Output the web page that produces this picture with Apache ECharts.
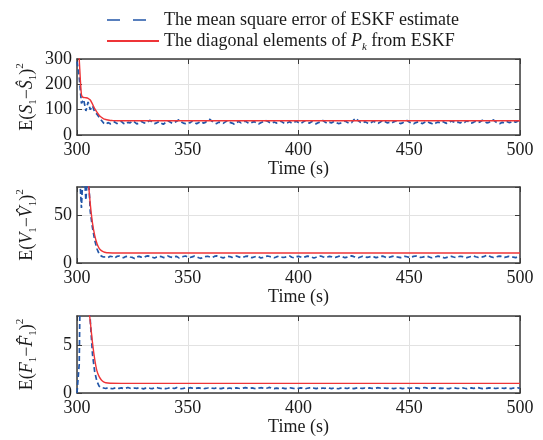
<!DOCTYPE html>
<html>
<head>
<meta charset="utf-8">
<script src="https://cdn.jsdelivr.net/npm/echarts@6/dist/echarts.min.js"></script>
<style>
  html, body { margin: 0; padding: 0; background: #fff; }
  #chart { width: 543px; height: 440px; }
</style>
</head>
<body>
<div id="chart"></div>
<script>
// x axis (s)
const xMin = 300, xMax = 500, xStep = 50;
// y axis limits per panel
const yMax = [300, 80, 8];
const yStep = [100, 50, 5];

// blue: sampled every second from 300 s to 500 s
const blueTime = [];
for (let t = 300; t <= 500; t++) blueTime.push(t);

const blue1 = [
  290, 230, 125, 140, 95, 130, 100, 115, 90, 82, 70, 58, 47, 42, 49, 44,
  47, 52, 45, 49, 54, 46, 43, 50, 48, 55, 51, 44, 47, 53, 49, 46, 52, 58, 50, 45,
  48, 53, 47, 42, 50, 56, 51, 46, 49, 54, 60, 52, 47, 45, 50, 48, 55, 51, 44, 49,
  53, 47, 50, 57, 62, 54, 48, 45, 51, 49, 46, 52, 56, 50, 47, 43, 49, 53, 48, 51,
  55, 49, 46, 50, 53, 47, 44, 48, 52, 58, 54, 49, 46, 51, 47, 50, 55, 49, 45, 48,
  52, 47, 50, 54, 49, 45, 51, 56, 50, 47, 53, 48, 44, 49, 52, 57, 51, 46, 50, 48,
  53, 49, 45, 47, 51, 55, 50, 46, 49, 60, 66, 56, 50, 47, 52, 48, 45, 50, 54, 49,
  46, 51, 58, 53, 48, 50, 47, 52, 55, 49, 45, 48, 53, 57, 51, 47, 44, 49, 52, 48,
  45, 50, 54, 49, 46, 42, 47, 51, 48, 53, 49, 46, 50, 55, 52, 48, 51, 47, 53, 50,
  56, 51, 47, 50, 54, 49, 52, 58, 53, 48, 50, 55, 60, 52, 47, 45, 50, 48, 53, 49,
  51, 55, 50, 54, 57
];
const blue2 = [
  120, 100, 58, 110, 66, 100, 54, 37, 24, 15, 9.5, 7.2, 6.3,
  6.4, 5.8, 7.1, 6.6, 5.2, 6.9, 7.4, 6.1, 5.5, 6.8, 7.2, 6.3, 5.9, 4.8, 6.5, 7.0, 6.2, 5.6, 6.9, 7.5,
  6.7, 6.0, 5.3, 6.4, 7.1, 6.8, 5.7, 6.2, 7.3, 6.5, 5.9, 6.6, 7.0, 5.4, 6.1, 6.8, 7.4, 6.3, 5.8, 6.5,
  7.2, 6.4, 5.5, 4.9, 6.0, 6.7, 7.1, 6.3, 5.8, 6.9, 7.5, 6.6, 6.0, 5.4, 6.2, 7.0, 6.8, 5.9, 6.4, 7.3,
  6.5, 5.7, 6.1, 6.9, 7.2, 6.4, 5.6, 6.3, 7.0, 6.6, 5.2, 5.9, 6.7, 7.4, 6.8, 6.1, 5.5, 6.4, 7.1, 6.5,
  5.8, 6.2, 6.9, 7.3, 6.0, 5.4, 6.6, 7.0, 6.3, 5.7, 6.5, 7.2, 6.8, 6.1, 5.3, 6.0, 6.7, 7.4, 6.5, 5.9,
  6.3, 7.0, 6.6, 5.8, 6.2, 6.9, 7.3, 6.4, 5.6, 6.1, 6.8, 7.5, 6.7, 6.0, 5.5, 6.3, 7.1, 6.6, 5.9, 6.4,
  7.0, 6.5, 5.7, 6.2, 6.9, 7.2, 6.3, 5.4, 6.0, 6.7, 7.3, 6.8, 6.1, 5.6, 6.4, 7.0, 6.6, 5.8, 6.3, 6.9,
  7.4, 6.5, 5.9, 6.2, 6.8, 7.1, 6.4, 5.5, 6.0, 6.6, 7.2, 6.7, 6.1, 5.3, 5.9, 6.5, 7.0, 6.3, 5.7, 6.4,
  7.1, 6.8, 6.2, 5.6, 6.3, 6.9, 7.4, 6.6, 6.0, 5.5, 6.4, 7.0, 8.2, 7.3, 6.5, 5.8, 6.2, 6.9, 7.3, 6.6,
  5.9, 6.4, 7.0, 6.7, 6.1, 5.6, 6.5, 7.2
];
const blue3 = [
  0, 3, 22, 30, 24, 13, 7.5, 4, 2.2, 1.2, 0.7, 0.55,
  0.52, 0.47, 0.55, 0.49, 0.44, 0.51, 0.56, 0.48, 0.53, 0.46, 0.50, 0.57, 0.49, 0.45, 0.52, 0.48, 0.54, 0.50, 0.43, 0.51,
  0.55, 0.49, 0.46, 0.53, 0.58, 0.50, 0.47, 0.52, 0.45, 0.49, 0.54, 0.51, 0.47, 0.56, 0.50, 0.44, 0.48, 0.53, 0.49, 0.55,
  0.51, 0.46, 0.50, 0.54, 0.48, 0.43, 0.49, 0.52, 0.57, 0.50, 0.47, 0.53, 0.49, 0.45, 0.51, 0.55, 0.48, 0.52, 0.46, 0.50,
  0.54, 0.49, 0.45, 0.51, 0.56, 0.50, 0.47, 0.53, 0.48, 0.44, 0.50, 0.55, 0.51, 0.47, 0.52, 0.58, 0.49, 0.46, 0.51, 0.48,
  0.53, 0.50, 0.45, 0.49, 0.55, 0.51, 0.47, 0.52, 0.48, 0.54, 0.50, 0.44, 0.49, 0.53, 0.57, 0.50, 0.46, 0.51, 0.48, 0.52,
  0.49, 0.55, 0.50, 0.46, 0.52, 0.48, 0.44, 0.50, 0.54, 0.51, 0.47, 0.53, 0.49, 0.45, 0.51, 0.56, 0.50, 0.48, 0.52, 0.47,
  0.53, 0.49, 0.46, 0.51, 0.55, 0.50, 0.47, 0.52, 0.48, 0.54, 0.50, 0.45, 0.49, 0.53, 0.51, 0.46, 0.50, 0.55, 0.49, 0.52,
  0.48, 0.53, 0.50, 0.46, 0.52, 0.57, 0.51, 0.47, 0.49, 0.54, 0.50, 0.45, 0.51, 0.48, 0.53, 0.49, 0.46, 0.52, 0.55, 0.50,
  0.47, 0.51, 0.54, 0.49, 0.45, 0.50, 0.53, 0.48, 0.52, 0.56, 0.50, 0.46, 0.51, 0.48, 0.54, 0.49, 0.52, 0.47, 0.50, 0.55,
  0.51, 0.48, 0.53, 0.49, 0.46, 0.52, 0.50, 0.54, 0.49
];

// red: diagonal elements of P_k
const red1Time = [300, 301, 301.5, 302, 302.5, 303, 304, 305, 306, 307, 308, 309, 310, 311, 312, 313, 314, 315, 316, 318, 320, 500];
const red1 = [420, 300, 220, 160, 150, 148, 147, 145, 138, 122, 104, 90, 78, 70, 64, 61, 59, 57.5, 57, 56.5, 56, 56];
const red2Time = [300, 302, 304, 305, 306, 307, 308, 309, 310, 311, 312, 313, 314, 316, 320, 500];
const red2 = [300, 160, 110, 88, 62, 42, 29, 20.5, 15.5, 13, 11.8, 11.1, 10.8, 10.6, 10.5, 10.5];
const red3Time = [300, 302, 304, 305, 306, 307, 308, 309, 310, 311, 312, 313, 315, 320, 500];
const red3 = [40, 22, 12, 9.5, 7.4, 5.2, 3.5, 2.3, 1.7, 1.35, 1.15, 1.06, 1.01, 1.0, 1.0];

const blueName = 'The mean square error of ESKF estimate';
const redName = 'The diagonal elements of P_k from ESKF';
const yNames = [
  '{n|E(}{i|S}{s|1}{n|\u2212}{i|\u015C}{s|1}{n|)}{p|2}',
  '{n|E(}{i|V}{s|1}{n|\u2212}{i|V\u0302}{s|1}{n|)}{p|2}',
  '{n|E(}{i|F}{s|1}{n|\u2212}{i|F\u0302}{s|1}{n|)}{p|2}'
];

const FONT = 'Liberation Serif';
const TXT = '#1a1a1a';
const BOX = '#3c3c3c';
const GRIDC = '#e2e2e2';
const BLUE = '#2256a8';
const RED = '#ee3437';

const richText = {
  n: { fontFamily: FONT, fontSize: 18, color: TXT, lineHeight: 24 },
  i: { fontFamily: FONT, fontSize: 18, color: TXT, fontStyle: 'italic', lineHeight: 24 },
  s: { fontFamily: FONT, fontSize: 11, color: TXT, lineHeight: 11, verticalAlign: 'bottom' },
  p: { fontFamily: FONT, fontSize: 11, color: TXT, lineHeight: 11, verticalAlign: 'top' },
  k: { fontFamily: FONT, fontSize: 11, color: TXT, fontStyle: 'italic', lineHeight: 11, verticalAlign: 'bottom' }
};

const pairs = (ts, vs) => ts.map((t, i) => [t, vs[i]]);
const blueData = [blue1, blue2, blue3];
const redData = [pairs(red1Time, red1), pairs(red2Time, red2), pairs(red3Time, red3)];

const grids = [
  { left: 77, right: 23, top: 59, height: 76 },
  { left: 77, right: 23, top: 187, height: 76 },
  { left: 77, right: 23, top: 316, height: 77 }
];

const boxLine = { show: true, onZero: false, lineStyle: { color: BOX, width: 1.5 } };
const inTick = { show: true, inside: true, length: 5, lineStyle: { color: BOX, width: 1 } };

const xAxis = [], yAxis = [], series = [];
grids.forEach((g, i) => {
  xAxis.push({
    gridIndex: i, type: 'value', min: xMin, max: xMax, interval: xStep, position: 'bottom',
    axisLine: boxLine, axisTick: inTick,
    axisLabel: { color: TXT, fontFamily: FONT, fontSize: 18, margin: 6 },
    splitLine: { show: true, lineStyle: { color: GRIDC, width: 1 } },
    name: 'Time (s)', nameLocation: 'middle', nameGap: 24,
    nameTextStyle: { color: TXT, fontFamily: FONT, fontSize: 18 }
  });
  xAxis.push({
    gridIndex: i, type: 'value', min: xMin, max: xMax, interval: xStep, position: 'top',
    axisLine: boxLine, axisTick: inTick, axisLabel: { show: false }, splitLine: { show: false }
  });
  yAxis.push({
    gridIndex: i, type: 'value', min: 0, max: yMax[i], interval: yStep[i], position: 'left',
    axisLine: boxLine, axisTick: inTick,
    axisLabel: { color: TXT, fontFamily: FONT, fontSize: 18, margin: 5, showMaxLabel: i === 0 },
    splitLine: { show: true, lineStyle: { color: GRIDC, width: 1 } },
    name: yNames[i], nameLocation: 'middle', nameGap: 38, nameMoveOverlap: false,
    nameTextStyle: { rich: richText }
  });
  yAxis.push({
    gridIndex: i, type: 'value', min: 0, max: yMax[i], interval: yStep[i], position: 'right',
    axisLine: boxLine, axisTick: inTick, axisLabel: { show: false }, splitLine: { show: false }
  });
  series.push({
    type: 'line', name: blueName, xAxisIndex: 2 * i, yAxisIndex: 2 * i,
    data: pairs(blueTime, blueData[i]), symbol: 'none',
    lineStyle: { color: BLUE, width: 1.7, type: [5, 3] }, itemStyle: { color: BLUE }
  });
  series.push({
    type: 'line', name: redName, xAxisIndex: 2 * i, yAxisIndex: 2 * i,
    data: redData[i], symbol: 'none', smooth: 0.2,
    lineStyle: { color: RED, width: 1.4 }, itemStyle: { color: RED }
  });
});

const chart = echarts.init(document.getElementById('chart'));
chart.setOption({
  animation: false,
  backgroundColor: '#fff',
  grid: grids,
  legend: {
    orient: 'vertical', left: 101, top: 6,
    itemWidth: 52, itemHeight: 14, itemGap: 3,
    itemStyle: { opacity: 0 },
    data: [
      { name: blueName, lineStyle: { type: [13, 13], width: 1.5 } },
      { name: redName }
    ],
    formatter: name => name === redName
      ? '{n|The diagonal elements of }{i|P}{k|k}{n| from ESKF}'
      : '{n|' + name + '}',
    textStyle: { color: TXT, fontFamily: FONT, fontSize: 18, rich: richText }
  },
  xAxis: xAxis,
  yAxis: yAxis,
  series: series
});
</script>
</body>
</html>
